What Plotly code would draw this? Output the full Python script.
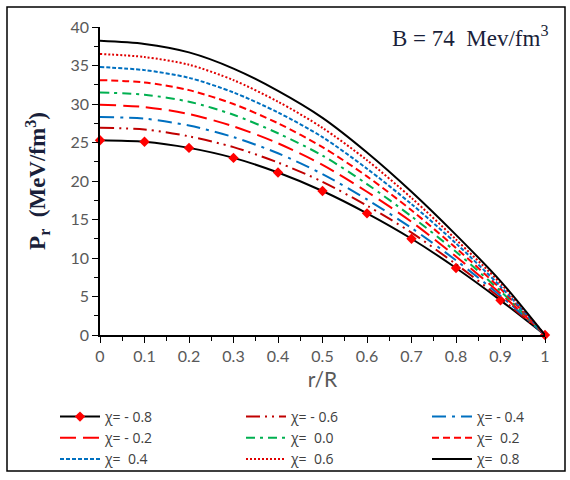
import plotly.graph_objects as go

# ---- data ----
r_over_R = [0, 0.1, 0.2, 0.3, 0.4, 0.5, 0.6, 0.7, 0.8, 0.9, 1.0]

chi_labels = ["χ= - 0.8", "χ= - 0.6", "χ= - 0.4", "χ= - 0.2", "χ=  0.0",
              "χ=  0.2", "χ=  0.4", "χ=  0.6", "χ=  0.8"]

p_m08 = [25.3, 25.1, 24.3, 23.0, 21.1, 18.7, 15.8, 12.5, 8.7, 4.5, 0]
p_m06 = [26.9, 26.7, 25.8, 24.4, 22.4, 19.9, 16.8, 13.3, 9.2, 4.8, 0]
p_m04 = [28.3, 28.1, 27.2, 25.7, 23.6, 20.9, 17.6, 13.9, 9.7, 5.1, 0]
p_m02 = [29.9, 29.6, 28.7, 27.1, 24.9, 22.1, 18.6, 14.7, 10.2, 5.4, 0]
p_00 = [31.5, 31.2, 30.3, 28.6, 26.2, 23.3, 19.6, 15.4, 10.8, 5.7, 0]
p_02 = [33.1, 32.8, 31.8, 30.0, 27.5, 24.4, 20.6, 16.2, 11.3, 6.0, 0]
p_04 = [34.8, 34.4, 33.4, 31.5, 28.9, 25.7, 21.6, 17.0, 11.9, 6.3, 0]
p_06 = [36.5, 36.1, 35.1, 33.1, 30.3, 26.9, 22.7, 17.8, 12.4, 6.7, 0]
p_08 = [38.2, 37.8, 36.7, 34.6, 31.7, 28.2, 23.7, 18.6, 13.0, 7.0, 0]

series = [p_m08, p_m06, p_m04, p_m02, p_00, p_02, p_04, p_06, p_08]

# ---- styles ----
colors = ["#000000", "#C00000", "#0070C0", "#FF0000", "#00B050",
          "#FF0000", "#0070C0", "#E00000", "#000000"]
dashes = ["solid", "14px,5px,2px,5px,2px,5px", "14px,6px,3px,6px", "16px,7px",
          "9px,5px,3px,5px", "7px,4px", "4px,2px", "2px,2px", "solid"]
widths = [2, 2, 2, 2, 2, 2, 2, 2, 2]
legend_of = ["legend", "legend2", "legend3"] * 3

W, H = 570, 480
ml, mr, mt, mb = 100, 25, 27, 145
pw, ph = W - ml - mr, H - mt - mb

def px_to_paper_x(px):
    return (px - ml) / pw

def px_to_paper_y(py):
    return (H - mb - py) / ph

fig = go.Figure()
for i, (lab, ys) in enumerate(zip(chi_labels, series)):
    if i == 0:
        kw = dict(mode="lines+markers",
                  marker=dict(symbol="diamond", size=8, color="#FF0000",
                              line=dict(width=0)))
    else:
        kw = dict(mode="lines")
    fig.add_trace(go.Scatter(
        x=r_over_R, y=ys, name=lab,
        line=dict(color=colors[i], dash=dashes[i], width=widths[i], shape="spline", smoothing=0.8),
        legend=legend_of[i], cliponaxis=False, **kw))

legend_font = dict(family="Open Sans, Noto Sans, sans-serif", size=14, color="#404040")
col_x = [55, 241, 427]
for j, name in enumerate(["legend", "legend2", "legend3"]):
    fig.update_layout(**{name: dict(
        x=px_to_paper_x(col_x[j]), y=px_to_paper_y(401), xanchor="left", yanchor="top",
        orientation="v", font=legend_font, bgcolor="rgba(0,0,0,0)",
        tracegroupgap=0, itemwidth=40)})

fig.update_layout(
    width=W, height=H,
    margin=dict(l=ml, r=mr, t=mt, b=mb, autoexpand=False),
    paper_bgcolor="white", plot_bgcolor="white",
    showlegend=True,
    xaxis=dict(range=[0, 1], dtick=0.1, tick0=0, showgrid=False, zeroline=False,
               showline=True, linecolor="black", linewidth=1.5,
               ticks="outside", ticklen=6, tickcolor="black", tickwidth=1.3,
               minor=dict(dtick=0.05, ticks="outside", ticklen=4, tickcolor="black", tickwidth=1.3),
               tickfont=dict(family="Lato, sans-serif", size=16, color="#595959"),
               title=dict(text="r/R", font=dict(family="Lato, sans-serif", size=21, color="#595959"),
                          standoff=8)),
    yaxis=dict(range=[0, 40], dtick=5, tick0=0, showgrid=False, zeroline=False,
               showline=True, linecolor="black", linewidth=1.5,
               ticks="outside", ticklen=6, tickcolor="black", tickwidth=1.3,
               minor=dict(dtick=2.5, ticks="outside", ticklen=4, tickcolor="black", tickwidth=1.3),
               tickfont=dict(family="Lato, sans-serif", size=16, color="#595959"),
               title=dict(text="<b>P<sub>r</sub>  (MeV/fm<sup>3</sup>)</b>",
                          font=dict(family="Liberation Serif, DejaVu Serif, serif", size=23,
                                    color="#1a1f3a"),
                          standoff=18)),
    annotations=[dict(
        text="B = 74  Mev/fm<sup>3</sup>", xref="paper", yref="paper",
        x=px_to_paper_x(470), y=px_to_paper_y(37), xanchor="center", yanchor="middle",
        showarrow=False,
        font=dict(family="Liberation Serif, DejaVu Serif, serif", size=23, color="#1a1f3a"))],
    shapes=[dict(type="rect", xref="paper", yref="paper",
                 x0=px_to_paper_x(7), x1=px_to_paper_x(565),
                 y0=px_to_paper_y(471), y1=px_to_paper_y(7),
                 line=dict(color="black", width=1.5), fillcolor="rgba(0,0,0,0)")],
)

fig.write_html("out.html")
